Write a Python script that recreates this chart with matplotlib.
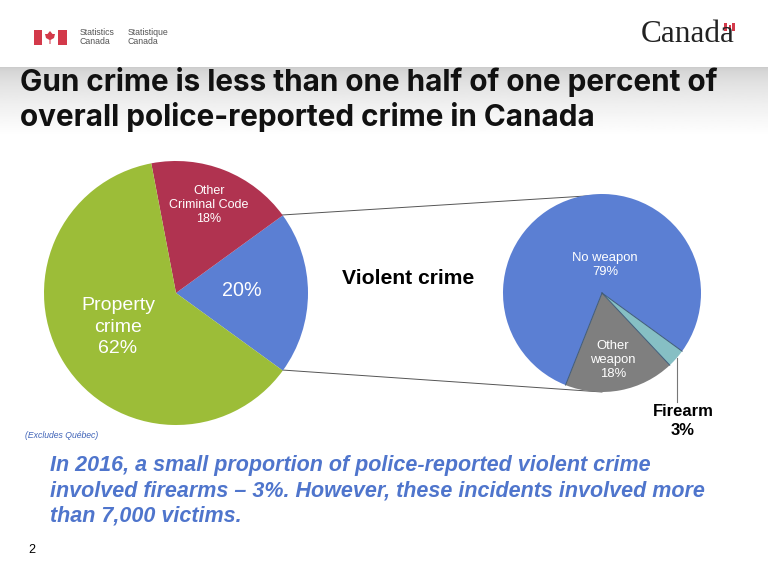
import numpy as np
import matplotlib
matplotlib.use("Agg")
import matplotlib.pyplot as plt
from matplotlib.patches import Rectangle, Polygon

overall_labels = ["20%", "Other\nCriminal Code\n18%", "Property\ncrime\n62%"]
overall_values = [20, 18, 62]
overall_colors = ["#5B7FD3", "#B03350", "#9CBD38"]
violent_labels = ["No weapon\n79%", "Other\nweapon\n18%", ""]
violent_values = [79, 18, 3]
violent_colors = ["#5B7FD3", "#7F7F7F", "#86BFC4"]

plt.rcParams['font.family'] = ['Liberation Sans', 'DejaVu Sans']
W, H = 768, 576
fig = plt.figure(figsize=(W/100, H/100), dpi=100, facecolor="white")
ax = fig.add_axes([0, 0, 1, 1])

def Y(p):
    return H - p

# header gradient
g = np.clip(0.80 + 0.20*np.linspace(0, 1, 70)**0.6, 0, 1)[:, None]
ax.imshow(g, cmap="gray", vmin=0, vmax=1, extent=[0, W, Y(136), Y(67)], aspect="auto", zorder=0)

# connectors sit behind the pies
ax.plot([282, 602], [Y(215), Y(195)], color="#555555", lw=0.7, zorder=0.5)
ax.plot([282, 602], [Y(370), Y(392)], color="#555555", lw=0.7, zorder=0.5)

# main pies
ax.pie(overall_values, colors=overall_colors, startangle=-36, counterclock=True,
       center=(176, Y(293)), radius=132, frame=True, wedgeprops=dict(linewidth=0))
ax.pie(violent_values, colors=violent_colors, startangle=-36, counterclock=True,
       center=(602, Y(293)), radius=99, frame=True, wedgeprops=dict(linewidth=0))
# dark separators between the wedges of the right pie
edges = -36 + 360*np.cumsum([0] + violent_values)/sum(violent_values)
for a in edges[:-1]:
    t = np.deg2rad(a)
    ax.plot([602, 602 + 99*np.cos(t)], [Y(293), Y(293) + 99*np.sin(t)],
            color="#3E5A78", lw=0.7, zorder=2)
ax.set_xlim(0, W)
ax.set_ylim(0, H)
ax.set_aspect("auto")
ax.axis("off")

ax.plot([677, 677], [Y(358), Y(402)], color="#777777", lw=0.8, zorder=1)

# pie labels
ax.text(209, Y(205), overall_labels[1], color="white", fontsize=9, ha="center", va="center",
        linespacing=1.22)
ax.text(242, Y(291), overall_labels[0], color="white", fontsize=14.2, ha="center", va="center")
ax.text(118, Y(327), overall_labels[2], color="white", fontsize=14, ha="center", va="center",
        linespacing=1.33)
ax.text(605, Y(265), violent_labels[0], color="white", fontsize=9.4, ha="center", va="center",
        linespacing=1.2)
ax.text(613, Y(360), violent_labels[1], color="white", fontsize=9.4, ha="center", va="center",
        linespacing=1.2)
ax.text(683, Y(421), "Firearm\n3%", color="black", fontsize=12, fontweight="bold", ha="center",
        va="center", linespacing=1.3)
ax.text(408, Y(278), "Violent crime", color="black", fontsize=15.2, fontweight="bold",
        ha="center", va="center")

# title
ax.text(20, Y(82), "Gun crime is less than one half of one percent of", fontsize=21.4,
        family=["Inter"], fontweight="bold", color="#111111", ha="left", va="center")
ax.text(20, Y(117), "overall police-reported crime in Canada", fontsize=21.4,
        family=["Inter"], fontweight="bold", color="#111111", ha="left", va="center")

# notes
ax.text(25, Y(435), "(Excludes Québec)", color="#3F63B8", fontsize=6.2, style="italic",
        ha="left", va="center")
for py, s in zip([465, 491, 516], ["In 2016, a small proportion of police-reported violent crime",
                                    "involved firearms – 3%. However, these incidents involved more",
                                    "than 7,000 victims."]):
    ax.text(50, Y(py), s, color="#4F75CC", fontsize=15.5, style="italic", fontweight="bold",
            ha="left", va="center")
ax.text(32, Y(550), "2", color="black", fontsize=9, ha="center", va="center")

# Statistics Canada signature
red = "#D3394A"
ax.add_patch(Rectangle((34, Y(45)), 8, 15, fc=red, ec="none"))
ax.add_patch(Rectangle((58, Y(45)), 9, 15, fc=red, ec="none"))
ax.add_patch(Polygon([(50, Y(31)), (47.5, Y(34)), (45, Y(34)), (46, Y(38)), (49.5, Y(40)), (49.5, Y(44)),
                      (50.5, Y(44)), (50.5, Y(40)), (54, Y(38)), (55, Y(34)), (52.5, Y(34))],
                     fc=red, ec="none"))
ax.text(80, Y(32.5), "Statistics", fontsize=6.3, color="#555555", va="center")
ax.text(80, Y(42), "Canada", fontsize=6.3, color="#555555", va="center")
ax.text(128, Y(32.5), "Statistique", fontsize=6.3, color="#555555", va="center")
ax.text(128, Y(42), "Canada", fontsize=6.3, color="#555555", va="center")

# Canada wordmark
ax.text(641, Y(35), "Canada", fontsize=22.5, family=["Liberation Serif"], color="#222222",
        ha="left", va="center")
ax.add_patch(Rectangle((724, Y(31)), 11, 8, fc=red, ec="none"))
ax.add_patch(Rectangle((727, Y(31)), 5, 8, fc="white", ec="none"))
ax.add_patch(Rectangle((728.5, Y(29)), 2, 4, fc=red, ec="none"))

fig.savefig("out.png", dpi=100)
